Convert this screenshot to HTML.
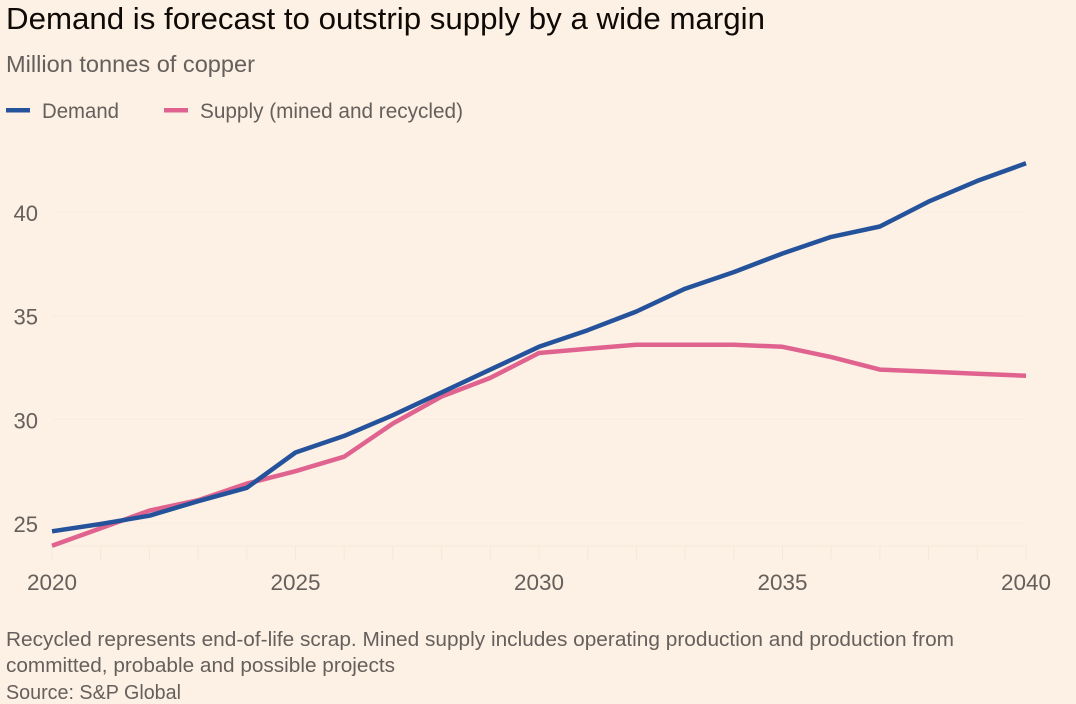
<!DOCTYPE html>
<html>
<head>
<meta charset="utf-8">
<title>Demand is forecast to outstrip supply by a wide margin</title>
<style>
html,body{margin:0;padding:0;background:#fdf0e4;}
svg{display:block;font-family:"Liberation Sans",sans-serif;}
</style>
</head>
<body>
<svg id="chart" width="1076" height="704" viewBox="0 0 1076 704" xmlns="http://www.w3.org/2000/svg">
  <rect width="1076" height="704" fill="#fdf0e4"/>
  <text x="6" y="29" font-size="31" fill="#0f0a06" textLength="759" lengthAdjust="spacingAndGlyphs">Demand is forecast to outstrip supply by a wide margin</text>
  <text x="6" y="72" font-size="23" fill="#66605c" textLength="249" lengthAdjust="spacingAndGlyphs">Million tonnes of copper</text>
  <g>
    <rect x="6" y="108" width="24" height="4.5" fill="#25539b"/>
    <text x="42" y="118" font-size="21" fill="#66605c" textLength="77" lengthAdjust="spacingAndGlyphs">Demand</text>
    <rect x="164" y="108" width="24" height="4.5" fill="#e0638f"/>
    <text x="200" y="118" font-size="21" fill="#66605c" textLength="263" lengthAdjust="spacingAndGlyphs">Supply (mined and recycled)</text>
  </g>
  <g id="grid"></g>
  <g id="labels"></g>
  <g id="series"></g>
  <g font-size="20" fill="#66605c">
    <text x="6" y="646" textLength="948" lengthAdjust="spacingAndGlyphs">Recycled represents end-of-life scrap. Mined supply includes operating production and production from</text>
    <text x="6" y="672" textLength="389" lengthAdjust="spacingAndGlyphs">committed, probable and possible projects</text>
    <text x="6" y="699" textLength="175" lengthAdjust="spacingAndGlyphs">Source: S&amp;P Global</text>
  </g>
</svg>
<script>
const years = [2020,2021,2022,2023,2024,2025,2026,2027,2028,2029,2030,2031,2032,2033,2034,2035,2036,2037,2038,2039,2040];
const demand = [24.6,24.95,25.35,26.05,26.7,28.4,29.2,30.2,31.3,32.4,33.5,34.3,35.2,36.3,37.1,38.0,38.8,39.3,40.5,41.5,42.35];
const supply = [23.9,24.75,25.6,26.1,26.9,27.5,28.2,29.8,31.1,32.0,33.2,33.4,33.6,33.6,33.6,33.5,33.0,32.4,32.3,32.2,32.1];
const yTicks = [25,30,35,40];
const xTickLabels = [2020,2025,2030,2035,2040];

const NS = 'http://www.w3.org/2000/svg';
const xScale = function (year) { return 52 + (year - 2020) * (1026 - 52) / 20; };
const yScale = function (value) { return 523 - (value - 25) * (523 - 212) / 15; };
const AXIS_Y = 546;
const TICK_BOTTOM = 560;

function make(tag, attrs, parent) {
  const el = document.createElementNS(NS, tag);
  Object.keys(attrs).forEach(function (k) { el.setAttribute(k, attrs[k]); });
  parent.appendChild(el);
  return el;
}

const grid = document.getElementById('grid');
const labels = document.getElementById('labels');
const seriesGroup = document.getElementById('series');

yTicks.forEach(function (t) {
  const line = make('line', {x1: 52, x2: 1026, y1: yScale(t), y2: yScale(t), stroke: '#f9ebdf', 'stroke-width': 1}, grid);
  
  
  const label = make('text', {x: 38, y: yScale(t) + 9, 'font-size': 22, fill: '#66605c', 'text-anchor': 'end'}, labels);
  
  
  label.textContent = t;
});

const baseline = make('line', {x1: 52, x2: 1026, y1: AXIS_Y, y2: AXIS_Y, stroke: '#f8eadd', 'stroke-width': 1}, grid);



years.forEach(function (yr) {
  const tick = make('line', {x1: xScale(yr), x2: xScale(yr), y1: AXIS_Y, y2: TICK_BOTTOM, stroke: '#f6e7da', 'stroke-width': 1}, grid);
  
  
});

xTickLabels.forEach(function (yr) {
  const label = make('text', {x: xScale(yr), y: 590, 'font-size': 22, fill: '#66605c', 'text-anchor': 'middle', textLength: 50, lengthAdjust: 'spacingAndGlyphs'}, labels);
  
  
  label.textContent = yr;
});

function pathFor(values) {
  return values.map(function (v, i) {
    return (i ? 'L' : 'M') + xScale(years[i]).toFixed(1) + ' ' + yScale(v).toFixed(1);
  }).join(' ');
}

const supplyLine = make('path', {d: pathFor(supply), fill: 'none', stroke: '#e0638f', 'stroke-width': 4.5, 'stroke-linejoin': 'round'}, seriesGroup);



const demandLine = make('path', {d: pathFor(demand), fill: 'none', stroke: '#25539b', 'stroke-width': 4.5, 'stroke-linejoin': 'round'}, seriesGroup);


</script>
</body>
</html>
